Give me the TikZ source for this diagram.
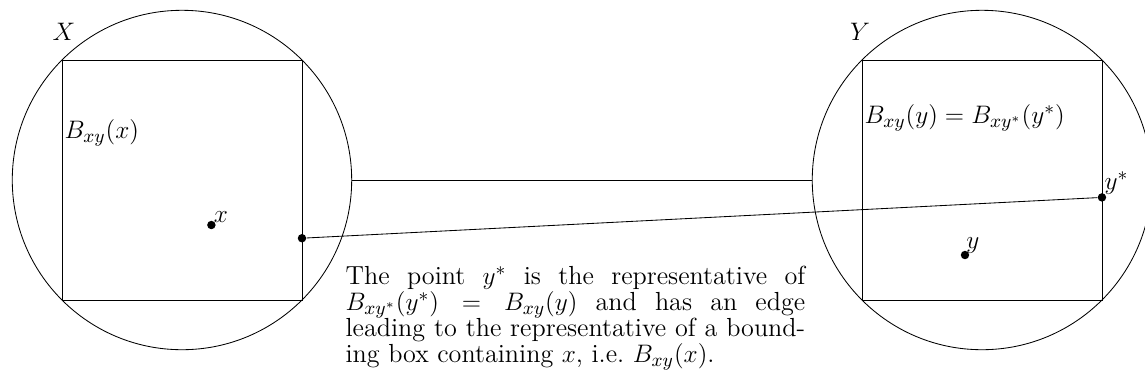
\documentclass[tikz,border=0pt]{standalone}
\usepackage{amsmath, amssymb}
\usepackage{tikz}
\usetikzlibrary{positioning, calc}

\begin{document}
\fontsize{13}{12.3}\selectfont
\begin{tikzpicture}[dot/.style={circle, fill, inner sep=0pt, minimum size=4pt}]
  \useasboundingbox (-3.033,-3.533) rectangle (16.05,3.0);
  % the two spaces with their bounding boxes
  \node[circle, draw, inner sep=0pt, minimum size=5.657cm] (X) at (0,0) {};
  \node[circle, draw, inner sep=0pt, minimum size=5.657cm] (Y) at (13.333,0) {};
  \draw (-2,-2) rectangle (2,2);
  \draw (11.333,-2) rectangle (15.333,2);
  \node (lX) at (-1.97,2.47) {$X$};
  \node (lY) at (11.30,2.47) {$Y$};
  \node[anchor=west, inner sep=1pt] (bx) at (-2,0.78) {$B_{xy}(x)$};
  \node[anchor=west, inner sep=1pt] (by) at (11.333,1.03) {$B_{xy}(y) = B_{xy^*}(y^*)$};
  % points
  \node[dot] (x) at (0.49,-0.75) {};
  \node[dot] (rx) at (2,-0.97) {};
  \node[dot] (y) at (13.05,-1.25) {};
  \node[dot] (ys) at (15.333,-0.29) {};
  \node[above right, inner sep=1pt] at (x) {$x$};
  \node[above right, inner sep=0.5pt] at (y) {$y$};
  \node[above right, inner sep=1pt] at (ys) {$y^*$};
  % edges
  \draw (X.east) -- (Y.west);
  \draw (rx) -- (ys);
  \node[anchor=north west, inner sep=0pt, text width=7.66cm, align=justify,
        font={\fontsize{12.4}{12.3}\selectfont\hyphenpenalty=10000}] (txt) at (2.72,-1.43)
    {The point $y^*$ is the representative of $B_{xy^*}(y^*) = B_{xy}(y)$ and has an edge\linebreak leading to the representative of a bound-\linebreak ing box containing $x$, i.e.\ $B_{xy}(x)$.};
\end{tikzpicture}
\end{document}
